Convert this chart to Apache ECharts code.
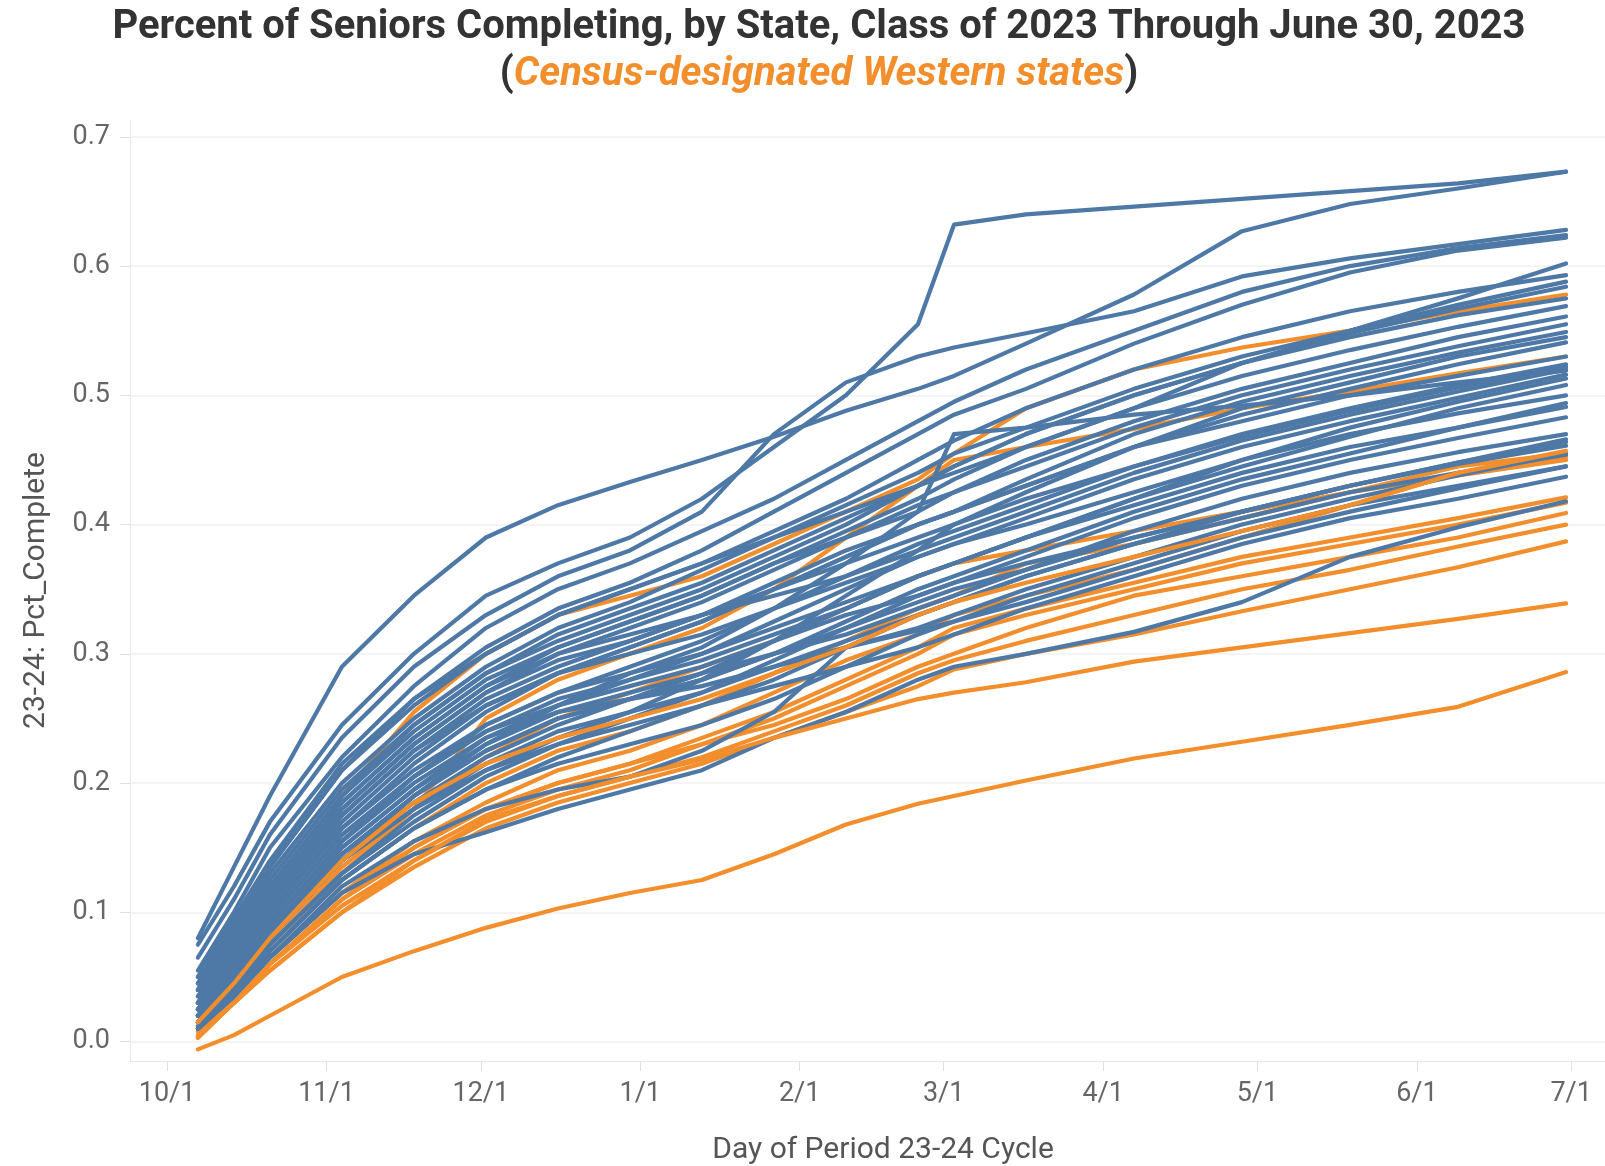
<!DOCTYPE html>
<html>
<head>
<meta charset="utf-8">
<script src="https://cdn.jsdelivr.net/npm/echarts@6/dist/echarts.min.js"></script>
<style>
html,body{margin:0;padding:0;background:#ffffff;}
#chart{width:1605px;height:1166px;}
</style>
</head>
<body>
<div id="chart"></div>
<script>
// Day offsets from Oct 1 (weekly/biweekly snapshots)
const days = [6,13,20,34,48,62,76,90,104,118,132,146,153,167,188,209,230,251,272];

// x-axis ticks: day offset of each month start and its label
const xTickDays = [0,31,61,92,123,151,182,212,243,273];
const xTickLabels = ['10/1','11/1','12/1','1/1','2/1','3/1','4/1','5/1','6/1','7/1'];

// y-axis tick values
const yTicks = [0,0.1,0.2,0.3,0.4,0.5,0.6,0.7];

// Non-Western states (blue)
const otherStates = [
  [0.075,0.12,0.17,0.245,0.30,0.345,0.37,0.39,0.42,0.46,0.50,0.555,0.632,0.64,0.646,0.652,0.658,0.664,0.673],
  [0.08,0.135,0.19,0.29,0.345,0.39,0.415,0.433,0.45,0.468,0.488,0.505,0.515,0.54,0.578,0.627,0.648,0.66,0.673],
  [0.065,0.11,0.16,0.235,0.29,0.33,0.36,0.38,0.41,0.47,0.51,0.53,0.537,0.548,0.565,0.592,0.606,0.617,0.628],
  [0.055,0.10,0.15,0.22,0.275,0.32,0.35,0.37,0.395,0.42,0.45,0.48,0.495,0.52,0.55,0.58,0.60,0.614,0.624],
  [0.05,0.09,0.135,0.21,0.265,0.305,0.335,0.355,0.38,0.41,0.44,0.47,0.485,0.505,0.54,0.57,0.595,0.612,0.622],
  [0.04,0.08,0.12,0.19,0.245,0.285,0.31,0.33,0.35,0.375,0.40,0.43,0.44,0.46,0.49,0.525,0.55,0.575,0.602],
  [0.05,0.095,0.14,0.215,0.265,0.30,0.33,0.35,0.37,0.395,0.42,0.45,0.465,0.49,0.52,0.545,0.565,0.58,0.593],
  [0.045,0.085,0.13,0.20,0.25,0.29,0.32,0.34,0.365,0.39,0.415,0.44,0.455,0.475,0.505,0.53,0.55,0.57,0.588],
  [0.04,0.08,0.125,0.195,0.245,0.285,0.315,0.335,0.355,0.38,0.405,0.43,0.445,0.47,0.50,0.525,0.548,0.567,0.584],
  [0.035,0.075,0.115,0.185,0.235,0.275,0.305,0.325,0.345,0.37,0.395,0.42,0.435,0.46,0.49,0.515,0.535,0.553,0.569],
  [0.03,0.07,0.11,0.18,0.23,0.27,0.30,0.32,0.34,0.365,0.39,0.41,0.425,0.45,0.48,0.505,0.525,0.545,0.561],
  [0.04,0.08,0.12,0.19,0.24,0.28,0.305,0.325,0.345,0.37,0.39,0.415,0.425,0.445,0.475,0.50,0.52,0.538,0.555],
  [0.025,0.06,0.10,0.165,0.215,0.255,0.285,0.305,0.325,0.35,0.375,0.40,0.41,0.435,0.47,0.495,0.515,0.533,0.549],
  [0.03,0.065,0.105,0.175,0.225,0.265,0.29,0.31,0.33,0.355,0.38,0.40,0.41,0.43,0.46,0.485,0.505,0.524,0.541],
  [0.02,0.055,0.09,0.155,0.205,0.245,0.27,0.29,0.31,0.335,0.36,0.385,0.395,0.415,0.445,0.47,0.49,0.508,0.524],
  [0.03,0.07,0.11,0.18,0.23,0.27,0.295,0.31,0.33,0.35,0.37,0.39,0.40,0.42,0.445,0.468,0.488,0.506,0.522],
  [0.015,0.045,0.08,0.14,0.19,0.23,0.26,0.285,0.305,0.335,0.37,0.41,0.47,0.475,0.485,0.492,0.50,0.51,0.519],
  [0.02,0.05,0.085,0.15,0.195,0.235,0.26,0.28,0.30,0.325,0.35,0.375,0.385,0.405,0.435,0.46,0.48,0.498,0.516],
  [0.025,0.06,0.095,0.16,0.205,0.24,0.265,0.28,0.295,0.315,0.335,0.36,0.37,0.39,0.42,0.45,0.475,0.495,0.513],
  [0.015,0.045,0.08,0.14,0.185,0.22,0.245,0.265,0.285,0.31,0.335,0.36,0.37,0.39,0.42,0.445,0.468,0.49,0.508],
  [0.02,0.05,0.085,0.145,0.19,0.225,0.25,0.265,0.28,0.30,0.325,0.35,0.36,0.38,0.41,0.435,0.455,0.475,0.494],
  [0.03,0.065,0.10,0.165,0.21,0.245,0.27,0.285,0.30,0.32,0.34,0.36,0.37,0.39,0.415,0.44,0.46,0.475,0.491],
  [0.015,0.04,0.075,0.13,0.17,0.205,0.23,0.25,0.27,0.295,0.32,0.345,0.355,0.375,0.405,0.43,0.45,0.467,0.483],
  [0.02,0.05,0.085,0.145,0.19,0.225,0.25,0.265,0.28,0.30,0.32,0.34,0.35,0.365,0.39,0.41,0.43,0.448,0.466],
  [0.01,0.035,0.07,0.125,0.165,0.195,0.22,0.24,0.26,0.28,0.305,0.33,0.34,0.36,0.385,0.41,0.43,0.448,0.464],
  [0.025,0.06,0.095,0.16,0.205,0.24,0.26,0.275,0.29,0.31,0.33,0.345,0.355,0.37,0.39,0.41,0.43,0.447,0.461],
  [0.015,0.045,0.08,0.14,0.18,0.215,0.24,0.255,0.27,0.29,0.31,0.33,0.34,0.36,0.385,0.405,0.425,0.44,0.454],
  [0.01,0.035,0.07,0.125,0.165,0.195,0.215,0.23,0.245,0.265,0.29,0.315,0.325,0.345,0.37,0.395,0.415,0.43,0.445],
  [0.02,0.05,0.085,0.14,0.18,0.21,0.23,0.245,0.26,0.275,0.29,0.305,0.315,0.335,0.36,0.385,0.405,0.42,0.437],
  [0.012,0.035,0.065,0.115,0.145,0.162,0.18,0.195,0.21,0.235,0.255,0.28,0.29,0.30,0.317,0.34,0.375,0.398,0.418],
  [0.01,0.035,0.065,0.12,0.155,0.18,0.195,0.205,0.225,0.255,0.305,0.318,0.325,0.34,0.365,0.39,0.41,0.428,0.445],
  [0.035,0.075,0.115,0.185,0.235,0.275,0.30,0.315,0.33,0.345,0.36,0.38,0.39,0.41,0.44,0.465,0.485,0.503,0.52],
  [0.025,0.06,0.10,0.17,0.22,0.26,0.285,0.305,0.325,0.35,0.375,0.40,0.41,0.43,0.46,0.48,0.50,0.515,0.53],
  [0.045,0.09,0.135,0.21,0.26,0.30,0.33,0.35,0.37,0.39,0.41,0.43,0.445,0.47,0.50,0.525,0.545,0.562,0.575],
  [0.02,0.05,0.085,0.15,0.195,0.23,0.255,0.27,0.285,0.30,0.315,0.335,0.345,0.365,0.395,0.42,0.44,0.456,0.47],
  [0.03,0.065,0.105,0.175,0.225,0.26,0.285,0.30,0.315,0.335,0.355,0.375,0.385,0.40,0.425,0.45,0.47,0.486,0.50],
  [0.01,0.04,0.075,0.13,0.175,0.21,0.235,0.255,0.28,0.31,0.345,0.38,0.40,0.425,0.46,0.49,0.51,0.53,0.545],
  [0.025,0.055,0.09,0.155,0.20,0.235,0.255,0.265,0.275,0.29,0.305,0.32,0.33,0.35,0.375,0.40,0.42,0.438,0.455]
];

// Census-designated Western states (orange)
const westernStates = [
  [0.015,0.05,0.09,0.19,0.255,0.30,0.33,0.345,0.36,0.385,0.41,0.435,0.455,0.49,0.52,0.537,0.55,0.565,0.578],
  [0.01,0.04,0.075,0.13,0.18,0.25,0.28,0.30,0.32,0.35,0.39,0.43,0.45,0.46,0.474,0.49,0.503,0.517,0.53],
  [0.01,0.04,0.07,0.125,0.165,0.20,0.225,0.24,0.26,0.285,0.31,0.335,0.345,0.37,0.385,0.405,0.425,0.445,0.455],
  [0.008,0.035,0.065,0.115,0.155,0.185,0.21,0.225,0.245,0.27,0.295,0.315,0.33,0.345,0.365,0.39,0.415,0.44,0.452],
  [0.012,0.04,0.075,0.135,0.18,0.22,0.25,0.27,0.29,0.31,0.335,0.36,0.37,0.38,0.395,0.41,0.425,0.438,0.45],
  [0.005,0.03,0.06,0.11,0.15,0.18,0.20,0.215,0.235,0.255,0.28,0.305,0.32,0.335,0.355,0.375,0.39,0.405,0.421],
  [0.005,0.03,0.06,0.11,0.145,0.175,0.195,0.21,0.23,0.25,0.275,0.30,0.315,0.33,0.35,0.37,0.385,0.40,0.417],
  [0.008,0.035,0.065,0.115,0.15,0.18,0.20,0.215,0.23,0.245,0.265,0.29,0.30,0.32,0.345,0.36,0.375,0.39,0.409],
  [0.004,0.03,0.06,0.105,0.14,0.17,0.19,0.205,0.22,0.24,0.26,0.285,0.295,0.31,0.33,0.35,0.365,0.383,0.40],
  [0.003,0.03,0.055,0.10,0.135,0.165,0.185,0.20,0.215,0.235,0.255,0.275,0.288,0.30,0.315,0.333,0.35,0.367,0.387],
  [0.003,0.03,0.055,0.10,0.14,0.172,0.19,0.205,0.218,0.235,0.25,0.265,0.27,0.278,0.294,0.305,0.316,0.327,0.339],
  [-0.006,0.005,0.02,0.05,0.07,0.088,0.103,0.115,0.125,0.145,0.168,0.184,0.19,0.202,0.219,0.232,0.245,0.259,0.286],
  [0.015,0.045,0.08,0.14,0.185,0.215,0.235,0.25,0.265,0.285,0.305,0.33,0.34,0.355,0.375,0.395,0.415,0.44,0.457]
];

const BLUE = '#4e79a7';
const ORANGE = '#f28e2b';

function makeSeries(row, color) {
  return {
    type: 'line',
    data: row.map((v, i) => [days[i], v]),
    symbol: 'none',
    silent: true,
    lineStyle: { color: color, width: 4.2, cap: 'round', join: 'round' },
    emphasis: { disabled: true }
  };
}

// interleave orange and blue draw order
const series = [];
let oi = 0;
otherStates.forEach((row, i) => {
  series.push(makeSeries(row, BLUE));
  if (i % 3 === 1 && oi < westernStates.length) {
    series.push(makeSeries(westernStates[oi++], ORANGE));
  }
});
while (oi < westernStates.length) series.push(makeSeries(westernStates[oi++], ORANGE));

const chart = echarts.init(document.getElementById('chart'), null, { renderer: 'canvas' });
chart.setOption({
  animation: false,
  backgroundColor: '#ffffff',
  title: [
    {
      text: 'Percent of Seniors Completing, by State, Class of 2023 Through June 30, 2023',
      left: 814, top: 3, textAlign: 'center',
      textStyle: { fontFamily: 'Roboto', fontWeight: 'bold', fontSize: 40, color: '#333333' }
    },
    {
      text: '{p|(}{o|Census-designated Western states}{p|)}',
      left: 814, top: 50, textAlign: 'center',
      textStyle: {
        rich: {
          p: { fontFamily: 'Roboto', fontWeight: 'bold', fontSize: 40, color: '#333333' },
          o: { fontFamily: 'Roboto', fontWeight: 'bold', fontStyle: 'italic', fontSize: 40, color: ORANGE }
        }
      }
    }
  ],
  grid: { left: 130, right: -31, top: 120, bottom: 105, containLabel: false, outerBoundsMode: 'none' },
  xAxis: {
    type: 'value',
    min: -7.2, max: 285.6,
    name: 'Day of Period 23-24 Cycle',
    nameLocation: 'middle',
    nameGap: 74,
    nameTextStyle: { fontFamily: 'Roboto', fontSize: 30, color: '#555555' },
    axisLine: { show: true, onZero: false, lineStyle: { color: '#e6e6e6', width: 1 } },
    axisTick: { show: true, customValues: xTickDays, length: 10, lineStyle: { color: '#e0e0e0' } },
    axisLabel: {
      customValues: xTickDays,
      margin: 20,
      fontFamily: 'Roboto', fontSize: 27, color: '#666666',
      formatter: function (v) { const k = xTickDays.indexOf(v); return k >= 0 ? xTickLabels[k] : ''; }
    },
    splitLine: { show: false }
  },
  yAxis: {
    type: 'value',
    min: -0.015, max: 0.713,
    name: '23-24: Pct_Complete',
    nameLocation: 'middle',
    nameGap: 79,
    nameTextStyle: { fontFamily: 'Roboto', fontSize: 30, color: '#555555' },
    axisLine: { show: true, onZero: false, lineStyle: { color: '#e6e6e6', width: 1 } },
    axisTick: { show: true, customValues: yTicks, length: 10, lineStyle: { color: '#e0e0e0' } },
    axisLabel: {
      customValues: yTicks,
      margin: 20,
      fontFamily: 'Roboto', fontSize: 27, color: '#666666',
      formatter: function (v) { return v.toFixed(1); }
    },
    splitLine: { show: true, lineStyle: { color: '#f0f0f0', width: 1.5 } }
  },
  series: series
});
</script>
</body>
</html>
